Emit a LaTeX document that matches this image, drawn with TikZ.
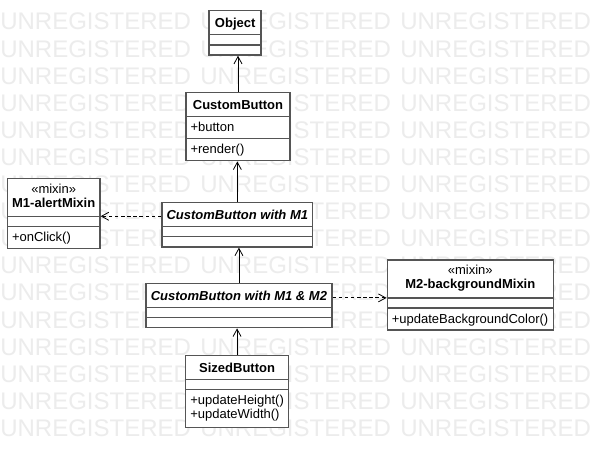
\documentclass[tikz,border=0pt]{standalone}
\usepackage{fontspec}
\setmainfont{Liberation Sans}
\usetikzlibrary{arrows.meta,positioning,shapes.multipart}

\definecolor{boxline}{RGB}{85,85,85}
\definecolor{stamp}{RGB}{236,236,236}

% struts carry the vertical padding of each compartment
\newcommand{\namestrut}{\rule[-5pt]{0pt}{16.9pt}}
\newcommand{\memberstrut}{\rule[-4.5pt]{0pt}{15.5pt}}
\newcommand{\nomembers}{\rule{0pt}{6.5pt}}
\newcommand{\toprow}{\rule{0pt}{10.6pt}}
\newcommand{\lastrow}{\rule[-6.3pt]{0pt}{0pt}}

\tikzset{
  umlclass/.style={rectangle split, rectangle split parts=3,
    rectangle split part align={center,left,left},
    draw=boxline, line width=1.1pt, fill=white, inner xsep=3.4pt, inner ysep=0pt,
    font=\fontsize{9.75pt}{10.5pt}\selectfont},
  inherits/.style={-{Straight Barb[length=5.5pt,width=6pt]}, line width=0.6pt},
  uses/.style={inherits, dash pattern=on 2.6pt off 2pt},
  stampword/.style={anchor=west, inner sep=0pt, text=stamp,
    font=\fontsize{18pt}{20pt}\selectfont}
}

\begin{document}
\begin{tikzpicture}[x=0.75pt, y=-0.75pt]
  \fill[white] (0,0) rectangle (591,466);
  \useasboundingbox (0,0) rectangle (591,466);

  % watermark
  \foreach \r in {0,...,15}{
    \foreach \c in {0,1,2}{
      \node[stampword] (wm-\r-\c) at (\c*200, 21.7+27.1*\r) {UNREGISTERED};
    }
  }

  % classes
  \node[umlclass, minimum width=39pt, anchor=north] (obj) at (235.2,10)
    {\namestrut\textbf{Object}%
     \nodepart{second}\nomembers
     \nodepart{third}\nomembers};
  \node[umlclass, minimum width=78pt, below=27pt of obj, xshift=2.1pt] (cbtn)
    {\namestrut\textbf{CustomButton}%
     \nodepart{second}\memberstrut+button%
     \nodepart{third}\memberstrut+render()};
  \node[umlclass, minimum width=112.5pt, below=30.3pt of cbtn, xshift=-0.5pt] (cbmone)
    {\namestrut\textbf{\textit{CustomButton with M1}}%
     \nodepart{second}\nomembers
     \nodepart{third}\nomembers};
  \node[umlclass, minimum width=139.3pt, below=26.3pt of cbmone, xshift=1.2pt] (cbmtwo)
    {\namestrut\textbf{\textit{CustomButton with M1 \& M2}}%
     \nodepart{second}\nomembers
     \nodepart{third}\nomembers};
  \node[umlclass, minimum width=77pt, below=19.8pt of cbmtwo, xshift=-1.4pt] (szbtn)
    {\namestrut\textbf{SizedButton}%
     \nodepart{second}\nomembers
     \nodepart{third}\begin{tabular}{@{}l@{}}\toprow+updateHeight()\\\lastrow+updateWidth()\end{tabular}};

  % mixins
  \node[umlclass, minimum width=69.3pt, left=45.5pt of cbmone, yshift=8.5pt] (mixone)
    {\begin{tabular}{@{}c@{}}\toprow«mixin»\\\lastrow\textbf{M1-alertMixin}\end{tabular}%
     \nodepart{second}\nomembers
     \nodepart{third}\memberstrut+onClick()};
  \node[umlclass, minimum width=124.5pt, right=40.5pt of cbmtwo, yshift=7.9pt] (mixtwo)
    {\begin{tabular}{@{}c@{}}\toprow«mixin»\\\lastrow\textbf{M2-backgroundMixin}\end{tabular}%
     \nodepart{second}\nomembers
     \nodepart{third}\memberstrut+updateBackgroundColor()};

  % generalisation
  \draw[inherits] (cbtn.north) -- (cbtn.north |- obj.south);
  \draw[inherits] (cbmone.north) -- (cbmone.north |- cbtn.south);
  \draw[inherits] (cbmtwo.north) -- (cbmtwo.north |- cbmone.south);
  \draw[inherits] (szbtn.north) -- (szbtn.north |- cbmtwo.south);

  % mixin dependencies
  \draw[uses] (cbmone.west |- mixone.text split) -- (mixone.text split east);
  \draw[uses] (cbmtwo.east |- mixtwo.text split) -- (mixtwo.text split west);
\end{tikzpicture}
\end{document}
